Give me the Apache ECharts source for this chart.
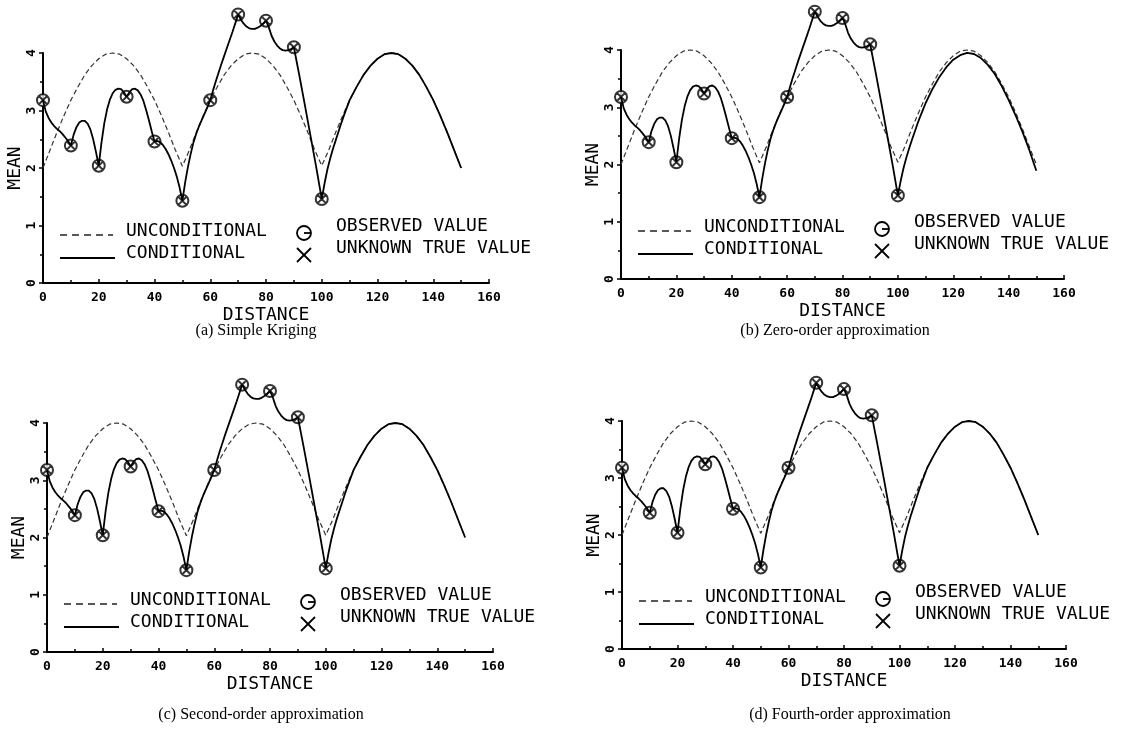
<html>
<head>
<meta charset="utf-8">
<title>Mean vs distance</title>
<script src="https://cdn.jsdelivr.net/npm/echarts/dist/echarts.min.js"></script>
<style>
body { margin: 0; background: #fff; }
#main { width: 1131px; height: 731px; }
</style>
</head>
<body>
<div id="main"></div>
<script>
// unconditional mean (dashed), read every 2.5 units
var distU = [0, 2.5, 5, 7.5, 10, 12.5, 15, 17.5, 20, 22.5, 25, 27.5, 30, 32.5, 35, 37.5, 40, 42.5, 45, 47.5, 50,
	52.5, 55, 57.5, 60, 62.5, 65, 67.5, 70, 72.5, 75, 77.5, 80, 82.5, 85, 87.5, 90, 92.5, 95, 97.5, 100,
	102.5, 105, 107.5, 110, 112.5, 115, 117.5, 120, 122.5, 125, 127.5, 130, 132.5, 135, 137.5, 140, 142.5, 145, 147.5, 150]
var meanU = [2.00, 2.31, 2.62, 2.91, 3.18, 3.41, 3.62, 3.78, 3.90, 3.98, 4.00, 3.98, 3.90, 3.78, 3.62, 3.41, 3.18, 2.91, 2.62, 2.31, 2.03,
	2.31, 2.62, 2.91, 3.18, 3.41, 3.62, 3.78, 3.90, 3.98, 4.00, 3.98, 3.90, 3.78, 3.62, 3.41, 3.18, 2.91, 2.62, 2.31, 2.04,
	2.31, 2.62, 2.91, 3.18, 3.41, 3.62, 3.78, 3.90, 3.98, 4.00, 3.98, 3.90, 3.78, 3.62, 3.41, 3.18, 2.91, 2.62, 2.31, 2.00]

// conditional mean (solid), 0..100
var distC = [0, 1, 2, 3, 4, 5, 6, 7, 8, 9, 10, 11, 12, 13, 14, 15, 16, 17, 18, 19, 20,
	21, 22, 23, 24, 25, 26, 27, 28, 29, 30, 31, 32, 33, 34, 35, 36, 37, 38, 39, 40,
	41, 42, 43, 44, 45, 46, 47, 48, 49, 50, 51, 52, 53, 54, 55, 56, 57, 58, 59, 60,
	61, 62, 63, 64, 65, 66, 67, 68, 69, 70, 71, 72, 73, 74, 75, 76, 77, 78, 79, 80,
	81, 82, 83, 84, 85, 86, 87, 88, 89, 90, 92, 94, 96, 98, 100]
var meanC = [3.18, 2.98, 2.87, 2.79, 2.73, 2.68, 2.64, 2.59, 2.53, 2.47, 2.39, 2.58, 2.71, 2.79, 2.82, 2.82, 2.77, 2.67, 2.50, 2.28, 2.04,
	2.45, 2.78, 3.02, 3.19, 3.30, 3.36, 3.38, 3.37, 3.32, 3.24, 3.32, 3.37, 3.38, 3.35, 3.28, 3.17, 3.01, 2.83, 2.64, 2.46,
	2.47, 2.45, 2.40, 2.33, 2.24, 2.13, 2.00, 1.85, 1.66, 1.43, 1.75, 2.02, 2.25, 2.45, 2.60, 2.73, 2.84, 2.95, 3.06, 3.18,
	3.35, 3.51, 3.66, 3.81, 3.95, 4.09, 4.23, 4.37, 4.52, 4.67, 4.58, 4.51, 4.46, 4.43, 4.42, 4.42, 4.44, 4.47, 4.51, 4.56,
	4.45, 4.30, 4.20, 4.13, 4.08, 4.05, 4.04, 4.05, 4.07, 4.10, 3.60, 3.08, 2.55, 2.02, 1.46]

// conditional mean beyond the last observation
var distTail = [101, 102, 103, 104, 105, 106, 107, 108, 109, 110,
	112.5, 115, 117.5, 120, 122.5, 125, 127.5, 130, 132.5, 135, 137.5, 140, 142.5, 145, 147.5, 150]
var tailA = [1.73, 1.97, 2.16, 2.33, 2.48, 2.63, 2.78, 2.92, 3.05, 3.18,
	3.41, 3.62, 3.78, 3.90, 3.98, 4.00, 3.98, 3.90, 3.78, 3.62, 3.41, 3.18, 2.91, 2.62, 2.31, 2.00]
var tailB = [1.71, 1.93, 2.11, 2.27, 2.42, 2.56, 2.70, 2.83, 2.95, 3.07,
	3.32, 3.53, 3.70, 3.83, 3.91, 3.95, 3.93, 3.86, 3.74, 3.58, 3.37, 3.13, 2.86, 2.57, 2.25, 1.89]

// observed values
var obsX = [0, 10, 20, 30, 40, 50, 60, 70, 80, 90, 100]
var obsY = [3.18, 2.39, 2.04, 3.24, 2.46, 1.43, 3.18, 4.67, 4.56, 4.10, 1.46]

var xTicks = [0, 20, 40, 60, 80, 100, 120, 140, 160]
var yTicks = [0, 1, 2, 3, 4]

var captions = ['(a) Simple Kriging', '(b) Zero-order approximation', '(c) Second-order approximation', '(d) Fourth-order approximation']
var tails = [tailA, tailB, tailA, tailA]

var panels = [
	{left: 43, top: 53, width: 446, height: 230, capX: 256, capY: 331},
	{left: 621, top: 50, width: 443, height: 229, capX: 835, capY: 331},
	{left: 47, top: 423, width: 446, height: 229, capX: 261, capY: 715},
	{left: 622, top: 421, width: 444, height: 228, capX: 850, capY: 715}
]

var mono = 'DejaVu Sans Mono'
var marker = 'path://M0,5A5,5 0 1,1 10,5A5,5 0 1,1 0,5ZM1.6,1.6L8.4,8.4M8.4,1.6L1.6,8.4'

function pairs(xs, ys) {
	var out = []
	for (var i = 0; i < xs.length; i++) out.push([xs[i], ys[i]])
	return out
}

function legendItems(ox, oy) {
	var ink = {stroke: '#000', lineWidth: 1.8}
	var txt = function(x, y, s) {
		return {type: 'text', x: x, y: y, style: {text: s, font: '18px "' + mono + '"', fill: '#000', verticalAlign: 'middle'}}
	}
	return [
		{type: 'line', shape: {x1: ox + 17, y1: oy - 48, x2: ox + 70, y2: oy - 48}, style: {stroke: '#222', lineWidth: 1.4, lineDash: [7, 5]}},
		txt(ox + 83, oy - 52, 'UNCONDITIONAL'),
		{type: 'line', shape: {x1: ox + 17, y1: oy - 25, x2: ox + 72, y2: oy - 25}, style: ink},
		txt(ox + 83, oy - 30, 'CONDITIONAL'),
		{type: 'circle', shape: {cx: ox + 261, cy: oy - 50, r: 7}, style: {stroke: '#000', lineWidth: 1.8, fill: 'none'}},
		{type: 'line', shape: {x1: ox + 261, y1: oy - 50, x2: ox + 268, y2: oy - 50}, style: ink},
		{type: 'line', shape: {x1: ox + 254, y1: oy - 35, x2: ox + 268, y2: oy - 21}, style: ink},
		{type: 'line', shape: {x1: ox + 268, y1: oy - 35, x2: ox + 254, y2: oy - 21}, style: ink},
		txt(ox + 293, oy - 57, 'OBSERVED VALUE'),
		txt(ox + 293, oy - 35, 'UNKNOWN TRUE VALUE')
	]
}

var grids = [], xAxes = [], yAxes = [], series = [], graphics = []

for (var i = 0; i < panels.length; i++) {
	var p = panels[i]
	grids.push({left: p.left, top: p.top, width: p.width, height: p.height, outerBoundsMode: 'none'})
	xAxes.push({
		gridIndex: i, type: 'value', min: xTicks[0], max: xTicks[xTicks.length - 1], interval: 20,
		axisLine: {lineStyle: {color: '#000', width: 2}},
		axisTick: {show: true, inside: true, length: 4, lineStyle: {color: '#000', width: 1.5}},
		minorTick: {show: true, splitNumber: 2, length: 3, lineStyle: {color: '#000', width: 1.5}},
		splitLine: {show: false},
		axisLabel: {color: '#000', fontFamily: mono, fontSize: 13, fontWeight: 'bold', margin: 8},
		name: 'DISTANCE', nameLocation: 'middle', nameGap: 23,
		nameTextStyle: {color: '#000', fontFamily: mono, fontSize: 18}
	})
	yAxes.push({
		gridIndex: i, type: 'value', min: yTicks[0], max: yTicks[yTicks.length - 1], interval: 1,
		axisLine: {show: true, lineStyle: {color: '#000', width: 2}},
		axisTick: {show: true, length: 4, lineStyle: {color: '#000', width: 1.5}},
		minorTick: {show: true, splitNumber: 2, length: 3, lineStyle: {color: '#000', width: 1.5}},
		splitLine: {show: false},
		axisLabel: {color: '#000', fontFamily: mono, fontSize: 13, fontWeight: 'bold', rotate: 90, margin: 5},
		name: 'MEAN', nameLocation: 'middle', nameGap: 19, nameRotate: 90,
		nameTextStyle: {color: '#000', fontFamily: mono, fontSize: 18}
	})

	series.push({
		type: 'line', xAxisIndex: i, yAxisIndex: i, data: pairs(distU, meanU),
		symbol: 'none', clip: false, silent: true,
		lineStyle: {color: '#333', width: 1.2, type: [5, 3]}
	})
	series.push({
		type: 'line', xAxisIndex: i, yAxisIndex: i,
		data: pairs(distC, meanC).concat(pairs(distTail, tails[i])),
		symbol: 'none', clip: false, silent: true,
		lineStyle: {color: '#000', width: 1.8}
	})
	series.push({
		type: 'scatter', xAxisIndex: i, yAxisIndex: i, data: pairs(obsX, obsY),
		symbol: marker, symbolSize: 12, clip: false, silent: true,
		itemStyle: {color: '#fff', borderColor: '#000', borderWidth: 2}
	})

	graphics = graphics.concat(legendItems(p.left, p.top + p.height))
	graphics.push({
		type: 'text', x: p.capX, y: p.capY,
		style: {text: captions[i], font: '16px "Liberation Serif"', fill: '#000', align: 'center', verticalAlign: 'middle'}
	})
}

var myChart = echarts.init(document.getElementById('main'))
myChart.setOption({
	animation: false,
	backgroundColor: '#fff',
	grid: grids,
	xAxis: xAxes,
	yAxis: yAxes,
	series: series,
	graphic: graphics
})
</script>
</body>
</html>
